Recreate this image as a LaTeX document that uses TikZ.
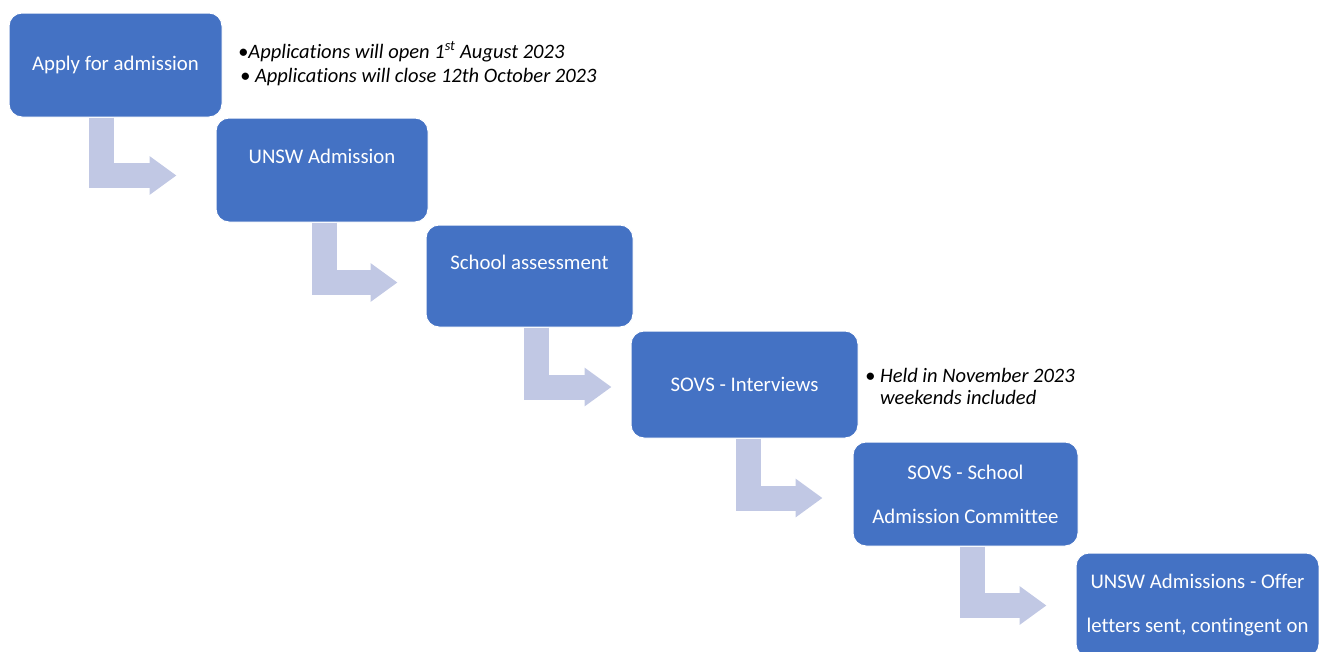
\documentclass[tikz,border=0pt]{standalone}
\usepackage{fontspec}
\setmainfont{Carlito}[Ligatures=NoCommon]
\usetikzlibrary{positioning,calc,arrows.meta}
\definecolor{stepBlue}{RGB}{68,114,196}
\definecolor{flowGray}{RGB}{193,200,228}

\begin{document}
\begin{tikzpicture}[x=1pt,y=-1pt]
\tikzset{myFont/.style={font=\fontsize{20.8}{44}\selectfont}}
\tikzset{myBox/.style={draw=white,line width=1pt,fill=stepBlue,rounded corners=13pt,text=white,myFont,align=center,inner sep=0pt,minimum height=104pt}}
\tikzset{myRaised/.style={text height=14pt,text depth=27pt}}
\tikzset{myNote/.style={font=\fontsize{20.5}{22}\selectfont\itshape,anchor=base west,inner sep=0pt,align=left}}
\tikzset{myArrow/.style={draw=flowGray,line width=25pt,-{Triangle[length=27pt,width=37pt]}}}

\useasboundingbox (0,0) rectangle (1319,651);
\clip (0,0) rectangle (1319,651);

% steps
\node[myBox,minimum width=213pt] (apply) at (115.5,65) {Apply for admission};
\node[myBox,minimum width=212pt,myRaised] (unsw) at (322,170) {UNSW Admission};
\node[myBox,minimum width=207pt,minimum height=102pt,myRaised] (assess) at (529.5,276) {School assessment};
\node[myBox,minimum width=227pt,minimum height=107pt] (interview) at (744.5,384.5) {SOVS - Interviews};
\node[myBox,minimum width=225pt] (committee) at (965.5,494) {SOVS - School\\Admission Committee};
\node[myBox,minimum width=243pt] (offer) at (1197.5,605) {UNSW Admissions - Offer\\letters sent, contingent on};

% notes
\node[myNote] (open) at (238,58) {\textbullet Applications will open 1\textsuperscript{st} August 2023};
\node[myNote] (close) at (240,82) {\textbullet\ Applications will close 12th October 2023};
\node[myNote] (held) at (865,404) {\textbullet\ Held in November 2023\\\phantom{\textbullet\ }weekends included};

% bent arrows
\draw[myArrow] ($(apply.south west)+(92.5,0)$) |- ($(unsw.west)+(-39,5.5)$);
\draw[myArrow] ($(unsw.south west)+(108.5,0)$) |- ($(assess.west)+(-28,6.5)$);
\draw[myArrow] ($(assess.south west)+(110.5,0)$) |- ($(interview.west)+(-19,2.5)$);
\draw[myArrow] ($(interview.south west)+(117.5,0)$) |- ($(committee.west)+(-30,4)$);
\draw[myArrow] ($(committee.south west)+(119.5,0)$) |- ($(offer.west)+(-29,0.5)$);
\end{tikzpicture}
\end{document}
